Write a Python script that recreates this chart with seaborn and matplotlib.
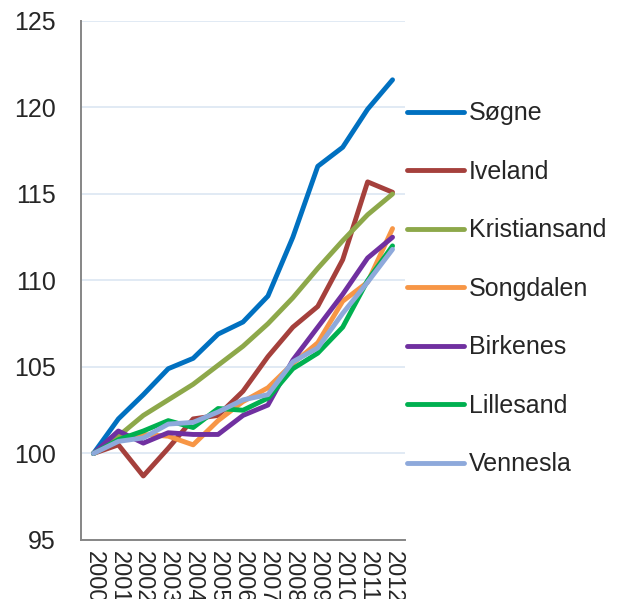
import matplotlib
matplotlib.use('Agg')
import matplotlib.pyplot as plt
import seaborn as sns
import pandas as pd
import numpy as np

years = [str(y) for y in range(2000, 2013)]

names = ["Søgne", "Iveland", "Kristiansand", "Songdalen", "Birkenes", "Lillesand", "Vennesla"]
colors = ["#0070C0", "#A5403C", "#8DA84A", "#F79646", "#7030A0", "#00B050", "#8EA9DB"]

soegne = [100, 102.0, 103.4, 104.9, 105.5, 106.9, 107.6, 109.1, 112.5, 116.6, 117.7, 119.9, 121.6]
iveland = [100, 100.5, 98.7, 100.3, 102.0, 102.2, 103.6, 105.6, 107.3, 108.5, 111.2, 115.7, 115.1]
kristiansand = [100, 101.0, 102.2, 103.1, 104.0, 105.1, 106.2, 107.5, 109.0, 110.7, 112.3, 113.8, 115.0]
songdalen = [100, 100.8, 101.1, 101.0, 100.5, 101.9, 103.0, 103.8, 105.2, 106.4, 108.8, 109.9, 113.0]
birkenes = [100, 101.3, 100.6, 101.2, 101.1, 101.1, 102.2, 102.8, 105.4, 107.3, 109.2, 111.3, 112.5]
lillesand = [100, 100.8, 101.3, 101.9, 101.5, 102.6, 102.5, 103.2, 104.9, 105.8, 107.3, 110.0, 112.0]
vennesla = [100, 100.7, 100.9, 101.7, 101.8, 102.4, 103.1, 103.4, 105.3, 106.1, 108.1, 109.9, 111.8]

series = [soegne, iveland, kristiansand, songdalen, birkenes, lillesand, vennesla]

rows = []
for name, vals in zip(names, series):
    for i, v in enumerate(vals):
        rows.append({"pos": i, "year": years[i], "kommune": name, "index": v})
df = pd.DataFrame(rows)

sns.set_style("white")
plt.rcParams['font.family'] = ['Liberation Sans', 'DejaVu Sans']

fig = plt.figure(figsize=(6.25, 5.99), dpi=100)
ax = fig.add_axes([0.1296, 0.0985, 0.5184, 0.8665])

sns.lineplot(data=df, x="pos", y="index", hue="kommune", hue_order=names,
             palette=colors, linewidth=3.5, ax=ax, legend=True)

ax.set_xlim(-0.5, 12.5)
ax.set_ylim(95, 125)
ax.set_yticks(np.arange(95, 126, 5))
ax.yaxis.grid(True, color="#DCE6F2", linewidth=1.2)
ax.set_axisbelow(True)
ax.set_xticks(range(13))
ax.set_xticklabels(years, rotation=-90, fontsize=17)
ax.set_xticks(np.arange(-0.5, 13, 1), minor=True)
ax.tick_params(axis="x", which="major", length=0, pad=8)
ax.tick_params(axis="x", which="minor", length=5, color="#868686", width=1.2)
ax.tick_params(axis="y", length=6, color="#868686", width=1.2, labelsize=18, pad=12)
ax.set_xlabel("")
ax.set_ylabel("")

for s in ["top", "right"]:
    ax.spines[s].set_visible(False)
for s in ["left", "bottom"]:
    ax.spines[s].set_color("#868686")
    ax.spines[s].set_linewidth(1.4)

leg = ax.legend(loc="upper left", bbox_to_anchor=(1.0, 0.85), frameon=False,
                fontsize=18, handlelength=2.28, handletextpad=0.18,
                labelspacing=1.38, borderaxespad=0.0, borderpad=0.1)
for line in leg.get_lines():
    line.set_linewidth(3.5)

plt.savefig("out.png", dpi=100)
plt.close()
